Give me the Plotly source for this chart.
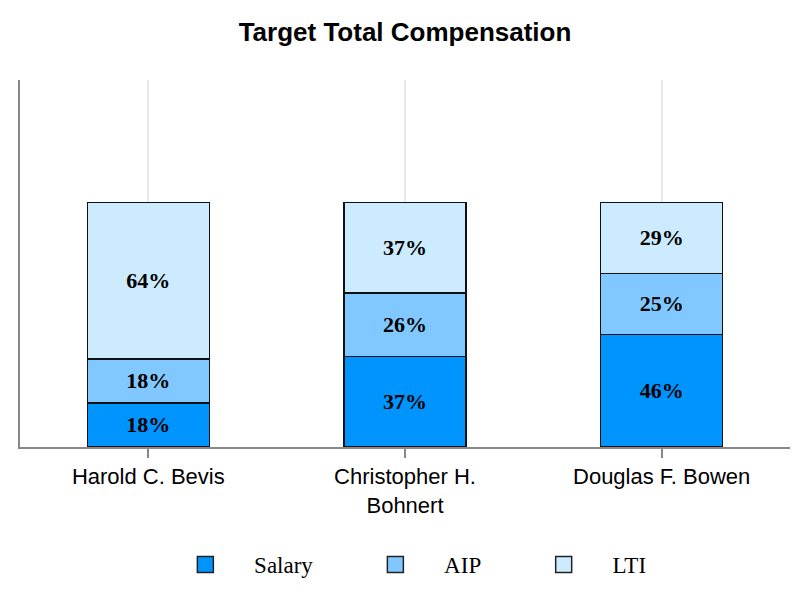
import plotly.graph_objects as go

categories = ["Harold C. Bevis", "Christopher H.<br>Bohnert", "Douglas F. Bowen"]
salary = [18, 37, 46]
aip = [18, 26, 25]
lti = [64, 37, 29]
series_names = ["Salary", "AIP", "LTI"]
colors = ["#0094FF", "#80C8FF", "#CCEBFF"]

NB = "\u00a0"
fig = go.Figure()
for name, vals, col in zip(series_names, [salary, aip, lti], colors):
    fig.add_trace(go.Bar(
        x=categories, y=vals, name=name,
        marker=dict(color=col, line=dict(color="#111111", width=1.5)),
        text=[f"{v}%" for v in vals], textposition="inside",
        insidetextanchor="middle", textangle=0,
        textfont=dict(family="Liberation Serif", size=22, color="black", weight="bold"),
        showlegend=False,
    ))
    fig.add_trace(go.Scatter(
        x=[None], y=[None], mode="markers",
        name=NB * 5 + name + NB * 10,
        marker=dict(symbol="square", size=21, color=col, line=dict(color="#222222", width=1.5)),
        showlegend=True,
    ))

fig.update_layout(
    barmode="stack",
    bargap=0.525,
    width=810, height=604,
    margin=dict(l=20, r=20, t=80, b=157, autoexpand=False),
    paper_bgcolor="white", plot_bgcolor="white",
    title=dict(text="<b>Target Total Compensation</b>", x=0.5, xanchor="center",
               y=0.947, yanchor="middle",
               font=dict(family="Liberation Sans", size=26, color="black")),
    xaxis=dict(showline=True, linecolor="#888888", linewidth=2,
               showgrid=True, gridcolor="#e8e8e8", gridwidth=1.5,
               ticks="outside", ticklen=9, tickcolor="#888888", tickwidth=2,
               tickfont=dict(family="Liberation Sans", size=22, color="black")),
    yaxis=dict(range=[0, 150], showline=True, linecolor="#888888", linewidth=2,
               showgrid=False, showticklabels=False, zeroline=False, ticks=""),
    legend=dict(orientation="h", x=0.555, xanchor="center", y=-0.32, yanchor="middle",
                traceorder="normal",
                font=dict(family="Liberation Serif", size=23, color="black"),
                itemsizing="trace"),
)

fig.write_html("out.html", config={"displayModeBar": False},
               post_script="document.body.style.margin='0px';")
